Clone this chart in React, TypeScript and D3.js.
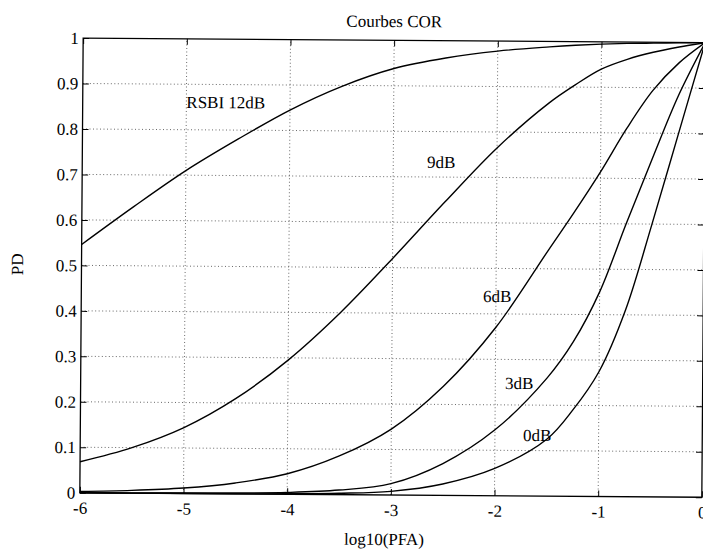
import React, { useEffect, useRef } from "react";
import * as d3 from "d3";

// log10(PFA) sample points shared by every curve
const pfaLog = [-6, -5.5, -5, -4.5, -4, -3.5, -3, -2.5, -2, -1.5, -1.25, -1, -0.75, -0.5, -0.25, 0];

// PD, one array per RSBI
const pd12 = [0.546, 0.63, 0.71, 0.78, 0.845, 0.898, 0.938, 0.962, 0.978, 0.988, 0.992, 0.995, 0.997, 0.998, 0.999, 1];
const pd9 = [0.068, 0.1, 0.145, 0.21, 0.295, 0.4, 0.52, 0.645, 0.765, 0.865, 0.905, 0.94, 0.962, 0.978, 0.99, 1];
const pd6 = [0.003, 0.006, 0.012, 0.024, 0.045, 0.085, 0.145, 0.24, 0.37, 0.54, 0.625, 0.714, 0.81, 0.894, 0.955, 1];
const pd3 = [0, 0, 0.001, 0.002, 0.004, 0.01, 0.025, 0.07, 0.145, 0.26, 0.34, 0.45, 0.6, 0.745, 0.885, 1];
const pd0 = [0, 0, 0, 0, 0.001, 0.003, 0.008, 0.025, 0.06, 0.125, 0.19, 0.275, 0.41, 0.6, 0.8, 1];

const curves = [pd12, pd9, pd6, pd3, pd0];
const curveNames = ["RSBI 12dB", "9dB", "6dB", "3dB", "0dB"];
// where each name sits, in data units (left / baseline)
const labelX = [-5.0, -2.674, -2.124, -1.906, -1.729];
const labelY = [0.848, 0.72, 0.426, 0.235, 0.121];

const xTicks = [-6, -5, -4, -3, -2, -1, 0];
const yTicks = [0, 0.1, 0.2, 0.3, 0.4, 0.5, 0.6, 0.7, 0.8, 0.9, 1];
const yTickLabels = ["0", "0.1", "0.2", "0.3", "0.4", "0.5", "0.6", "0.7", "0.8", "0.9", "1"];

const FONT = "'Liberation Serif', 'Times New Roman', serif";

const App = () => {
  const svgRef = useRef<SVGSVGElement>(null);

  useEffect(() => {
    const svg = d3.select(svgRef.current);
    svg.selectAll("*").remove();

    // the scan is slightly tilted
    const g = svg.append("g").attr("transform", "rotate(0.42, 392, 267)");

    const xScale = d3.scaleLinear().domain([-6, 0]).range([81.5, 703.5]);
    const yScale = d3.scaleLinear().domain([0, 1]).range([495, 40.3]);
    const [x0, x1] = xScale.range();
    const [y0, y1] = yScale.range();

    // dotted grid
    const grid = g.append("g").attr("stroke", "#444").attr("stroke-width", 0.8).attr("stroke-dasharray", "1,2.5");
    grid
      .selectAll(".vg")
      .data(xTicks.slice(1, -1))
      .join("line")
      .attr("class", "vg")
      .attr("x1", d => xScale(d))
      .attr("x2", d => xScale(d))
      .attr("y1", y0)
      .attr("y2", y1);
    grid
      .selectAll(".hg")
      .data(yTicks.slice(1, -1))
      .join("line")
      .attr("class", "hg")
      .attr("x1", x0)
      .attr("x2", x1)
      .attr("y1", d => yScale(d))
      .attr("y2", d => yScale(d));

    // axes, ticks pointing inward
    const styleAxis = sel => {
      sel.select(".domain").remove();
      sel.attr("font-size", 17).attr("font-family", FONT);
      sel.selectAll("line").attr("stroke", "#000").attr("stroke-width", 1);
      sel.selectAll("text").attr("fill", "#000");
    };

    g.append("g")
      .attr("transform", `translate(${x0},0)`)
      .call(
        d3.axisLeft(yScale)
          .tickValues(yTicks)
          .tickFormat((d, i) => yTickLabels[i])
          .tickSizeInner(-6)
          .tickSizeOuter(0)
          .tickPadding(4.5)
      )
      .call(styleAxis);

    g.append("g")
      .attr("transform", `translate(0,${y0})`)
      .call(
        d3.axisBottom(xScale)
          .tickValues(xTicks)
          .tickFormat(d => `${d}`)
          .tickSizeInner(-6)
          .tickSizeOuter(0)
          .tickPadding(9)
      )
      .call(styleAxis);

    g.append("g")
      .attr("transform", `translate(${x1},0)`)
      .call(d3.axisRight(yScale).tickValues(yTicks).tickFormat(() => "").tickSizeInner(-6).tickSizeOuter(0))
      .call(styleAxis);

    g.append("g")
      .attr("transform", `translate(0,${y1})`)
      .call(d3.axisTop(xScale).tickValues(xTicks).tickFormat(() => "").tickSizeInner(-6).tickSizeOuter(0))
      .call(styleAxis);

    // frame
    g.append("rect")
      .attr("x", x0)
      .attr("y", y1)
      .attr("width", x1 - x0)
      .attr("height", y0 - y1)
      .attr("fill", "none")
      .attr("stroke", "#000")
      .attr("stroke-width", 1.3);

    // ROC curves
    const lineGenerator = d3
      .line<number>()
      .x((d, i) => xScale(pfaLog[i]))
      .y(d => yScale(d))
      .curve(d3.curveCatmullRom.alpha(0.5));

    g.selectAll(".roc")
      .data(curves)
      .join("path")
      .attr("class", "roc")
      .attr("fill", "none")
      .attr("stroke", "#000")
      .attr("stroke-width", 1.4)
      .attr("d", d => lineGenerator(d));

    g.selectAll(".lbl")
      .data(curveNames)
      .join("text")
      .attr("class", "lbl")
      .attr("x", (d, i) => xScale(labelX[i]))
      .attr("y", (d, i) => yScale(labelY[i]))
      .attr("font-size", 17)
      .attr("font-family", FONT)
      .text(d => d);

    // titles
    g.append("text")
      .attr("x", (x0 + x1) / 2)
      .attr("y", 27)
      .attr("text-anchor", "middle")
      .attr("font-size", 17)
      .attr("font-family", FONT)
      .text("Courbes COR");

    g.append("text")
      .attr("x", 386)
      .attr("y", 545)
      .attr("text-anchor", "middle")
      .attr("font-size", 17)
      .attr("font-family", FONT)
      .text("log10(PFA)");

    g.append("text")
      .attr("transform", "translate(23,267) rotate(-90)")
      .attr("text-anchor", "middle")
      .attr("font-size", 17)
      .attr("font-family", FONT)
      .text("PD");
  }, []);

  return (
    <svg
      ref={svgRef}
      width={703}
      height={558}
      style={{ position: "absolute", left: 0, top: 0, background: "#fff" }}
    />
  );
};

export default App;
